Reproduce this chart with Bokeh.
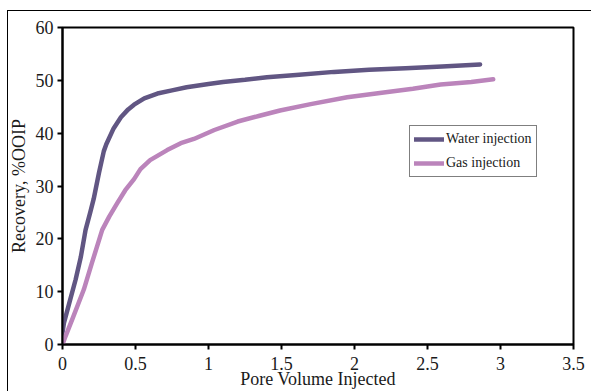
from bokeh.plotting import figure
from bokeh.models import Legend, LegendItem, FixedTicker, InlineStyleSheet
from bokeh.embed import file_html
from bokeh.resources import INLINE

water_x = [0, 0.01, 0.05, 0.09, 0.125, 0.158, 0.19, 0.214, 0.25, 0.283, 0.3, 0.35, 0.4, 0.45,
           0.49, 0.56, 0.65, 0.75, 0.85, 1.0, 1.1, 1.25, 1.4, 1.6, 1.86, 2.1, 2.35, 2.6, 2.86]
water_y = [2.3, 4.1, 8.2, 12.3, 16.5, 21.7, 25.0, 27.6, 32.5, 36.6, 37.9, 40.9, 43.0, 44.5,
           45.4, 46.6, 47.5, 48.1, 48.7, 49.3, 49.7, 50.1, 50.6, 51.0, 51.6, 52.0, 52.3, 52.6, 53.0]
gas_x = [0, 0.02, 0.07, 0.146, 0.2, 0.272, 0.32, 0.374, 0.43, 0.49, 0.534, 0.6, 0.717,
         0.81, 0.9, 1.04, 1.2, 1.35, 1.49, 1.7, 1.95, 2.2, 2.4, 2.59, 2.8, 2.95]
gas_y = [0, 1.5, 5.0, 10.4, 15.3, 21.7, 24.2, 26.7, 29.2, 31.3, 33.2, 34.9, 36.8,
         38.1, 38.9, 40.6, 42.2, 43.3, 44.3, 45.5, 46.8, 47.7, 48.4, 49.2, 49.7, 50.2]
x_ticks = [0, 0.5, 1, 1.5, 2, 2.5, 3, 3.5]
y_ticks = [0, 10, 20, 30, 40, 50, 60]
series_names = ["Water injection", "Gas injection"]
x_title = "Pore Volume Injected"
y_title = "Recovery, %OOIP"

FONT = "Liberation Serif"
TXT = "#1a1a1a"

p = figure(width=591, height=391, output_backend="svg", toolbar_location=None,
           x_range=(0, 3.5), y_range=(0, 60),
           min_border_left=62, min_border_right=18, min_border_top=27, min_border_bottom=46)
p.background_fill_color = "white"
p.border_fill_color = "white"
p.grid.visible = False
p.outline_line_color = "black"
p.outline_line_width = 2

for ax in (p.xaxis[0], p.yaxis[0]):
    ax.axis_line_color = "black"
    ax.axis_line_width = 2
    ax.major_tick_line_width = 2
    ax.major_tick_out = 5
    ax.major_tick_in = 0
    ax.minor_tick_line_color = None
    ax.major_label_text_font = FONT
    ax.major_label_text_font_size = "18px"
    ax.major_label_text_color = TXT
    ax.axis_label_text_font = FONT
    ax.axis_label_text_font_size = "18px"
    ax.axis_label_text_font_style = "normal"
    ax.axis_label_text_color = TXT
    ax.axis_label_text_line_height = 1.0
p.xaxis[0].ticker = FixedTicker(ticks=x_ticks)
p.yaxis[0].ticker = FixedTicker(ticks=y_ticks)
p.xaxis[0].major_label_standoff = 7
p.yaxis[0].major_label_standoff = 4
p.xaxis[0].axis_label = x_title
p.yaxis[0].axis_label = y_title
p.xaxis[0].axis_label_standoff = -4
p.yaxis[0].axis_label_standoff = 4

r1 = p.line(water_x, water_y, line_color="#615683", line_width=4.5, line_join="round", line_cap="round")
r2 = p.line(gas_x, gas_y, line_color="#bb84bb", line_width=4.5, line_join="round", line_cap="round")

legend = Legend(items=[LegendItem(label=series_names[0], renderers=[r1]),
                       LegendItem(label=series_names[1], renderers=[r2])],
                location=(347, 167), border_line_color="black", border_line_width=1.5,
                label_text_font=FONT, label_text_font_size="14px", label_text_color=TXT,
                glyph_width=30, glyph_height=14, label_standoff=2,
                padding=4, spacing=6, margin=0, label_height=18)
p.add_layout(legend)

p.stylesheets = [InlineStyleSheet(css=""":host::after {
  content: ""; position: absolute; left: 7px; top: 10px; width: 700px; height: 600px;
  border-left: 1px solid black; border-top: 1px solid black;
  pointer-events: none; z-index: 5;
}""")]

open("out.html", "w").write(file_html(p, INLINE))
